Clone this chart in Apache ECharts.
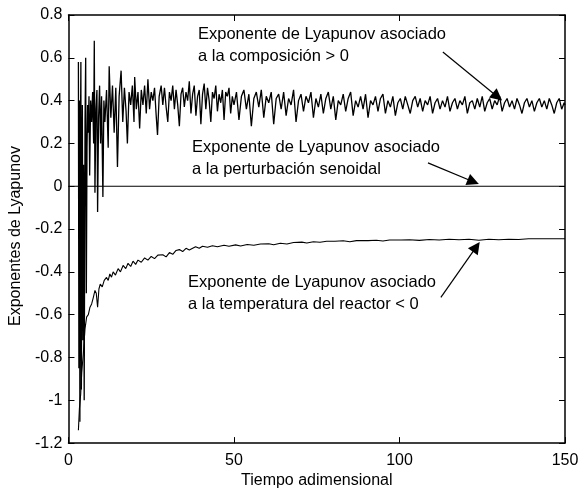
<!DOCTYPE html>
<html>
<head>
<meta charset="utf-8">
<script src="https://cdn.jsdelivr.net/npm/echarts@6/dist/echarts.min.js"></script>
<style>html,body{margin:0;padding:0;background:#fff;}#c{width:585px;height:494px;}</style>
</head>
<body>
<div id="c"></div>
<script>
// x tick values and y tick range
var xTicks = [0, 50, 100, 150];
var yRange = [-1.2, 0.8];

// Lyapunov exponent associated to composition (> 0)
var composicion = [
[3.0,0.58],[3.15,-0.85],[3.3,0.40],[3.45,-1.10],[3.6,0.20],[3.75,0.58],[3.9,-0.95],[4.05,0.05],[4.2,0.38],[4.35,-0.72],[4.55,0.10],[4.75,-1.0],[5.0,0.30],[5.2,0.60],[5.4,-0.50],[5.6,0.18],[5.8,0.38],[6.0,0.25],[6.2,0.42],[6.4,0.05],[6.7,0.40],[7.0,0.30],[7.3,0.44],[7.6,0.20],[7.8,0.68],[8.0,-0.03],[8.3,0.36],[8.6,0.45],[8.8,-0.12],[9.1,0.32],[9.4,0.47],[9.7,0.20],[10.0,0.42],[10.4,-0.05],[10.7,0.40],
[11.0,0.30],[11.5,0.45],[12.0,0.18],[12.3,0.56],[12.8,0.32],[13.3,0.47],[13.8,0.25],[14.3,0.46],[14.8,0.09],[15.3,0.42],[15.9,0.54],[16.4,0.30],[16.9,0.46],[17.4,0.35],[17.8,0.20],[18.3,0.44],[18.8,0.38],[19.3,0.47],[19.8,0.30],[20.0,0.51],
[20.5,0.36],[21.0,0.44],[21.5,0.27],[22.0,0.45],[22.5,0.38],[23.0,0.47],[23.5,0.34],[24.0,0.50],[24.5,0.36],[25.0,0.44],[25.5,0.40],[26.0,0.46],[26.5,0.33],[26.9,0.24],[27.4,0.42],[28.0,0.47],[28.5,0.38],[29.0,0.46],[29.5,0.37],[30.0,0.30],[30.5,0.44],[31.0,0.40],[31.5,0.47],[32.0,0.36],[32.5,0.45],[33.0,0.38],[33.5,0.28],[34.0,0.43],[34.5,0.46],[35.0,0.37],[35.5,0.44],[36.0,0.40],[36.5,0.49],[37.0,0.34],[37.5,0.43],[38.0,0.47],[38.5,0.33],[39.0,0.42],[39.5,0.45],[40.0,0.29],[40.5,0.43],[41.0,0.48],[41.5,0.36],[42.0,0.46],[42.5,0.40],[43.0,0.30],[43.5,0.44],[44.0,0.41],[44.5,0.47],[45.0,0.35],[45.5,0.43],[46.0,0.39],[46.5,0.45],[47.0,0.31],[47.5,0.44],[48.0,0.42],[48.5,0.46],[49.0,0.34],[49.5,0.42],
[50.0,0.38],[50.75,0.44],[51.5,0.31],[52.25,0.42],[53.0,0.45],[53.75,0.36],[54.5,0.43],[55.25,0.28],[56.0,0.41],[56.75,0.44],[57.5,0.37],[58.25,0.45],[59.0,0.32],[59.75,0.42],[60.5,0.39],[61.25,0.44],[62.0,0.29],[62.75,0.41],[63.5,0.43],[64.25,0.36],[65.0,0.44],[65.75,0.33],[66.5,0.41],[67.25,0.38],[68.0,0.45],[68.75,0.30],[69.5,0.40],[70.25,0.43],[71.0,0.35],[71.75,0.42],[72.5,0.39],[73.25,0.44],[74.0,0.32],[74.75,0.41],[75.5,0.37],[76.25,0.43],[77.0,0.34],[77.75,0.41],[78.5,0.44],[79.25,0.36],[80.0,0.42],[80.75,0.31],[81.5,0.40],[82.25,0.38],[83.0,0.43],[83.75,0.35],[84.5,0.41],[85.25,0.44],[86.0,0.33],[86.75,0.40],[87.5,0.37],[88.25,0.42],[89.0,0.36],[89.75,0.43],[90.5,0.32],[91.25,0.40],[92.0,0.38],[92.75,0.42],[93.5,0.35],[94.25,0.41],[95.0,0.43],[95.75,0.34],[96.5,0.40],[97.25,0.37],[98.0,0.42],[98.75,0.33],[99.5,0.39],
[100.25,0.41],[101.0,0.36],[101.75,0.42],[102.5,0.38],[103.25,0.34],[104.0,0.40],[104.75,0.42],[105.5,0.37],[106.25,0.41],[107.0,0.35],[107.75,0.40],[108.5,0.38],[109.25,0.42],[110.0,0.34],[110.75,0.39],[111.5,0.41],[112.25,0.36],[113.0,0.40],[113.75,0.37],[114.5,0.42],[115.25,0.35],[116.0,0.39],[116.75,0.41],[117.5,0.36],[118.25,0.40],[119.0,0.38],[119.75,0.42],[120.5,0.34],[121.25,0.39],[122.0,0.40],[122.75,0.36],[123.5,0.41],[124.25,0.37],[125.0,0.42],[125.75,0.35],[126.5,0.39],[127.25,0.41],[128.0,0.36],[128.75,0.40],[129.5,0.38],[130.25,0.42],[131.0,0.35],[131.75,0.39],[132.5,0.41],[133.25,0.37],[134.0,0.40],[134.75,0.36],[135.5,0.41],[136.25,0.38],[137.0,0.34],[137.75,0.39],[138.5,0.41],[139.25,0.37],[140.0,0.40],[140.75,0.35],[141.5,0.39],[142.25,0.41],[143.0,0.37],[143.75,0.40],[144.5,0.36],[145.25,0.41],[146.0,0.38],[146.75,0.34],[147.5,0.39],[148.25,0.41],[149.0,0.36],[149.75,0.39],[150.0,0.38]
];

// Lyapunov exponent associated to sinusoidal perturbation
var perturbacion = [[0,0],[150,0]];

// Lyapunov exponent associated to reactor temperature (< 0)
var temperatura = [
[3.0,-1.14],[3.3,-1.04],[3.7,-0.97],[4.0,-0.87],[4.5,-0.78],[5.0,-0.665],[5.5,-0.61],[6.0,-0.60],[6.5,-0.565],[7.0,-0.55],[7.5,-0.52],[8.0,-0.487],[8.4,-0.50],[8.8,-0.565],[9.2,-0.48],[9.6,-0.457],[10.2,-0.47],[10.8,-0.44],[11.5,-0.426],[12.0,-0.44],[12.5,-0.41],[13.0,-0.425],[13.5,-0.40],[14.2,-0.415],[15.0,-0.385],[15.7,-0.40],[16.5,-0.37],[17.3,-0.385],[18.0,-0.36],[18.8,-0.375],[19.5,-0.35],[20.3,-0.365],[21.0,-0.345],[22.0,-0.355],[23.0,-0.335],[24.0,-0.345],[25.0,-0.328],[26.0,-0.338],[27.0,-0.322],[28.5,-0.32],[29.5,-0.33],[30.5,-0.31],[31.5,-0.318],[32.5,-0.30],[33.5,-0.296],[34.5,-0.305],[35.5,-0.29],[36.5,-0.298],[38.4,-0.283],[39.5,-0.29],[40.5,-0.28],[42,-0.285],[43.5,-0.278],[45,-0.283],[47,-0.276],[48.5,-0.28],[50.5,-0.274],[52,-0.279],[54,-0.272],[56,-0.276],[58,-0.27],[60.5,-0.269],[62,-0.273],[64,-0.266],[66,-0.27],[68,-0.263],[70.5,-0.261],[72,-0.265],[74,-0.259],[76,-0.262],[78,-0.257],[80.5,-0.257],[83,-0.255],[85,-0.259],[87,-0.254],[90.5,-0.254],[93,-0.252],[95,-0.256],[97,-0.251],[100.5,-0.251],[103,-0.25],[106,-0.253],[109,-0.249],[112,-0.251],[115,-0.248],[118,-0.25],[121,-0.248],[124,-0.252],[127,-0.248],[130,-0.25],[133,-0.248],[136,-0.249],[139,-0.245],[150,-0.245]
];

// Annotation texts and arrow endpoints (data coords: [start, tip])
var labels = [
  ["Exponente de Lyapunov asociado", "a la composición > 0"],
  ["Exponente de Lyapunov asociado", "a la perturbación senoidal"],
  ["Exponente de Lyapunov asociado", "a la temperatura del reactor < 0"]
];
var arrows = [
  [[113.1, 0.627], [129.6, 0.418]],
  [[108.6, 0.109], [122.3, 0.021]],
  [[112.5, -0.519], [123.2, -0.283]]
];

var FONT = '"Liberation Sans", Arial, Helvetica, sans-serif';
var chart = echarts.init(document.getElementById('c'), null, {renderer: 'canvas'});

function fmt(v) { var r = Math.round(v * 10) / 10; return String(r); }

var axisLineStyle = {color: '#000', width: 1.5};
var option = {
  animation: false,
  backgroundColor: '#fff',
  grid: {left: 65, right: 20, top: 15, bottom: 49, containLabel: false},
  xAxis: [{
    type: 'value', min: xTicks[0], max: xTicks[xTicks.length - 1], interval: 50,
    axisLine: {show: true, onZero: false, lineStyle: axisLineStyle},
    axisTick: {show: true, inside: true, length: 6, lineStyle: {color: '#000', width: 1}},
    axisLabel: {color: '#000', fontSize: 16, fontFamily: FONT, margin: 9},
    splitLine: {show: false},
    name: 'Tiempo adimensional', nameLocation: 'middle', nameGap: 28,
    nameTextStyle: {color: '#000', fontSize: 16, fontFamily: FONT}
  }, {
    type: 'value', position: 'top', min: xTicks[0], max: xTicks[xTicks.length - 1], interval: 50,
    axisLine: {show: true, onZero: false, lineStyle: axisLineStyle},
    axisTick: {show: true, inside: true, length: 6, lineStyle: {color: '#000', width: 1}},
    axisLabel: {show: false}, splitLine: {show: false}
  }],
  yAxis: [{
    type: 'value', min: yRange[0], max: yRange[1], interval: 0.2,
    axisLine: {show: true, onZero: false, lineStyle: axisLineStyle},
    axisTick: {show: true, inside: true, length: 6, lineStyle: {color: '#000', width: 1}},
    axisLabel: {color: '#000', fontSize: 16, fontFamily: FONT, margin: 6, formatter: fmt},
    splitLine: {show: false},
    name: 'Exponentes de Lyapunov', nameLocation: 'middle', nameGap: 39,
    nameTextStyle: {color: '#000', fontSize: 16, fontFamily: FONT, padding: [0, 0, 0, -14]}
  }, {
    type: 'value', position: 'right', min: yRange[0], max: yRange[1], interval: 0.2,
    axisLine: {show: true, onZero: false, lineStyle: axisLineStyle},
    axisTick: {show: true, inside: true, length: 6, lineStyle: {color: '#000', width: 1}},
    axisLabel: {show: false}, splitLine: {show: false}
  }],
  series: [{
    type: 'line', data: composicion, showSymbol: false, symbol: 'none',
    lineStyle: {color: '#000', width: 1.3}, silent: true
  }, {
    type: 'line', data: perturbacion, showSymbol: false, symbol: 'none',
    lineStyle: {color: '#000', width: 1.2}, silent: true,
    markLine: {
      silent: true, animation: false,
      symbol: ['none', 'triangle'], symbolSize: 12,
      label: {show: false},
      lineStyle: {color: '#000', width: 1.2, type: 'solid'},
      data: arrows.map(function (a) {
        return [{coord: a[0]}, {coord: a[1]}];
      })
    }
  }, {
    type: 'line', data: temperatura, showSymbol: false, symbol: 'none',
    lineStyle: {color: '#000', width: 1.1}, silent: true
  }],
  graphic: []
};
chart.setOption(option);

// Annotation texts
var pos = [[198, 35], [192, 148], [188, 283]];
var g = [];
labels.forEach(function (lines, i) {
  lines.forEach(function (t, j) {
    g.push({type: 'text', left: pos[i][0], top: pos[i][1] - 9 + j * 22, silent: true,
      style: {text: t, fill: '#000', font: '16.5px ' + FONT}});
  });
});
chart.setOption({graphic: g});
</script>
</body>
</html>
